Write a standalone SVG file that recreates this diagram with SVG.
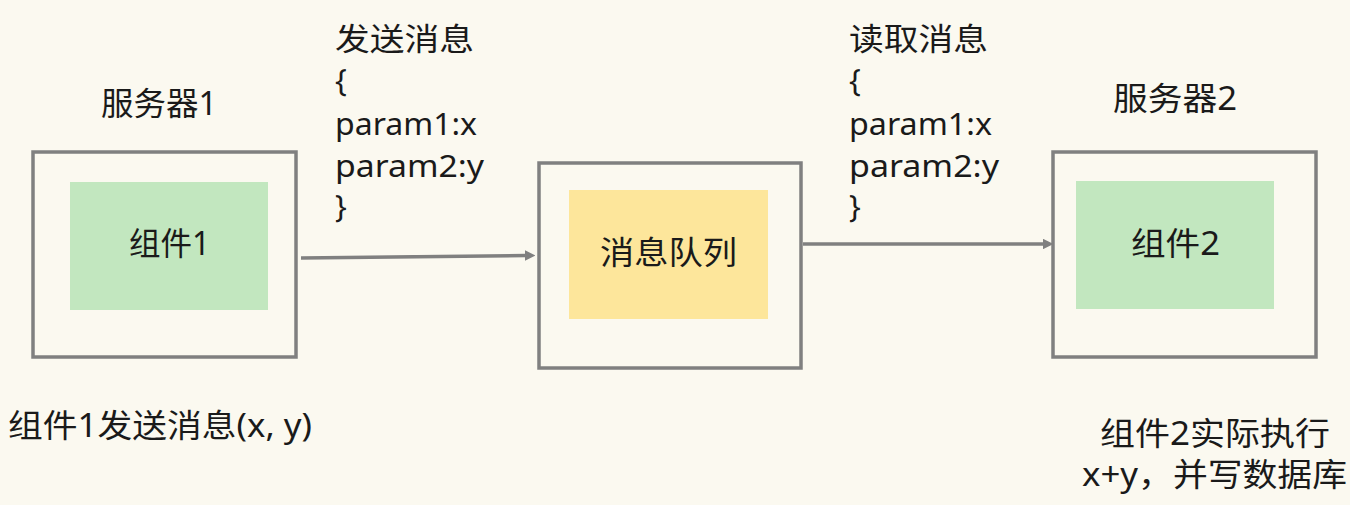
<svg xmlns="http://www.w3.org/2000/svg" width="1350" height="505" viewBox="0 0 1350 505">
<defs>
<style>
.bg{fill:#fbf9f0}
.box{fill:none;stroke:#808080;stroke-width:3.5}
.green{fill:#c2e7bf}
.yellow{fill:#fde69b}
.t{font-family:"Noto Sans","Noto Sans CJK SC",sans-serif;font-size:32px;fill:#1a1a1a}
.p{font-family:"Noto Sans","Noto Sans CJK SC",sans-serif;font-size:31px;fill:#1a1a1a}
.line{fill:none;stroke:#808080;stroke-width:3.5}
</style>
<marker id="arr" viewBox="0 0 10 10" refX="1" refY="5" markerWidth="3" markerHeight="3" orient="auto" markerUnits="strokeWidth">
<path d="M0,0 L10,5 L0,10 z" fill="#808080"/>
</marker>
</defs>
<rect class="bg" x="0" y="0" width="1350" height="505"/>

<g id="server1">
<rect class="box" x="33" y="152" width="263" height="205"/>
<text class="t" x="101" y="115" textLength="116" lengthAdjust="spacingAndGlyphs">服务器1</text>
</g>
<g id="component1">
<rect class="green" x="70" y="182" width="198" height="128"/>
<text class="t" x="129" y="255" textLength="81" lengthAdjust="spacingAndGlyphs">组件1</text>
</g>

<g id="queue-server">
<rect class="box" x="539" y="163" width="262" height="205"/>
</g>
<g id="queue">
<rect class="yellow" x="569" y="190" width="199" height="129"/>
<text class="t" x="600" y="264" textLength="137" lengthAdjust="spacingAndGlyphs">消息队列</text>
</g>

<g id="server2">
<rect class="box" x="1053" y="152" width="263" height="205"/>
<text class="t" x="1113" y="110" textLength="124" lengthAdjust="spacingAndGlyphs">服务器2</text>
</g>
<g id="component2">
<rect class="green" x="1076" y="181" width="198" height="128"/>
<text class="t" x="1131" y="255" textLength="89" lengthAdjust="spacingAndGlyphs">组件2</text>
</g>

<g id="connectors">
<line class="line" x1="301" y1="258" x2="526" y2="255.5" marker-end="url(#arr)"/>
<line class="line" x1="803" y1="244" x2="1044" y2="244" marker-end="url(#arr)"/>
</g>

<g id="send-label">
<text class="p" x="335" y="50" textLength="139" lengthAdjust="spacingAndGlyphs">发送消息</text>
<text class="p" x="335" y="91">{</text>
<text class="p" x="335" y="135" textLength="142" lengthAdjust="spacingAndGlyphs">param1:x</text>
<text class="p" x="335" y="177" textLength="149" lengthAdjust="spacingAndGlyphs">param2:y</text>
<text class="p" x="335" y="217">}</text>
</g>

<g id="read-label">
<text class="p" x="849" y="50" textLength="139" lengthAdjust="spacingAndGlyphs">读取消息</text>
<text class="p" x="849" y="91">{</text>
<text class="p" x="849" y="135" textLength="143" lengthAdjust="spacingAndGlyphs">param1:x</text>
<text class="p" x="849" y="177" textLength="150" lengthAdjust="spacingAndGlyphs">param2:y</text>
<text class="p" x="849" y="217">}</text>
</g>

<g id="note1">
<text class="t" x="8" y="437" textLength="304" lengthAdjust="spacingAndGlyphs">组件1发送消息(x, y)</text>
</g>
<g id="note2">
<text class="t" x="1100" y="445" textLength="230" lengthAdjust="spacingAndGlyphs">组件2实际执行</text>
<text class="t" x="1082" y="486" textLength="265" lengthAdjust="spacingAndGlyphs">x+y，并写数据库</text>
</g>
</svg>
